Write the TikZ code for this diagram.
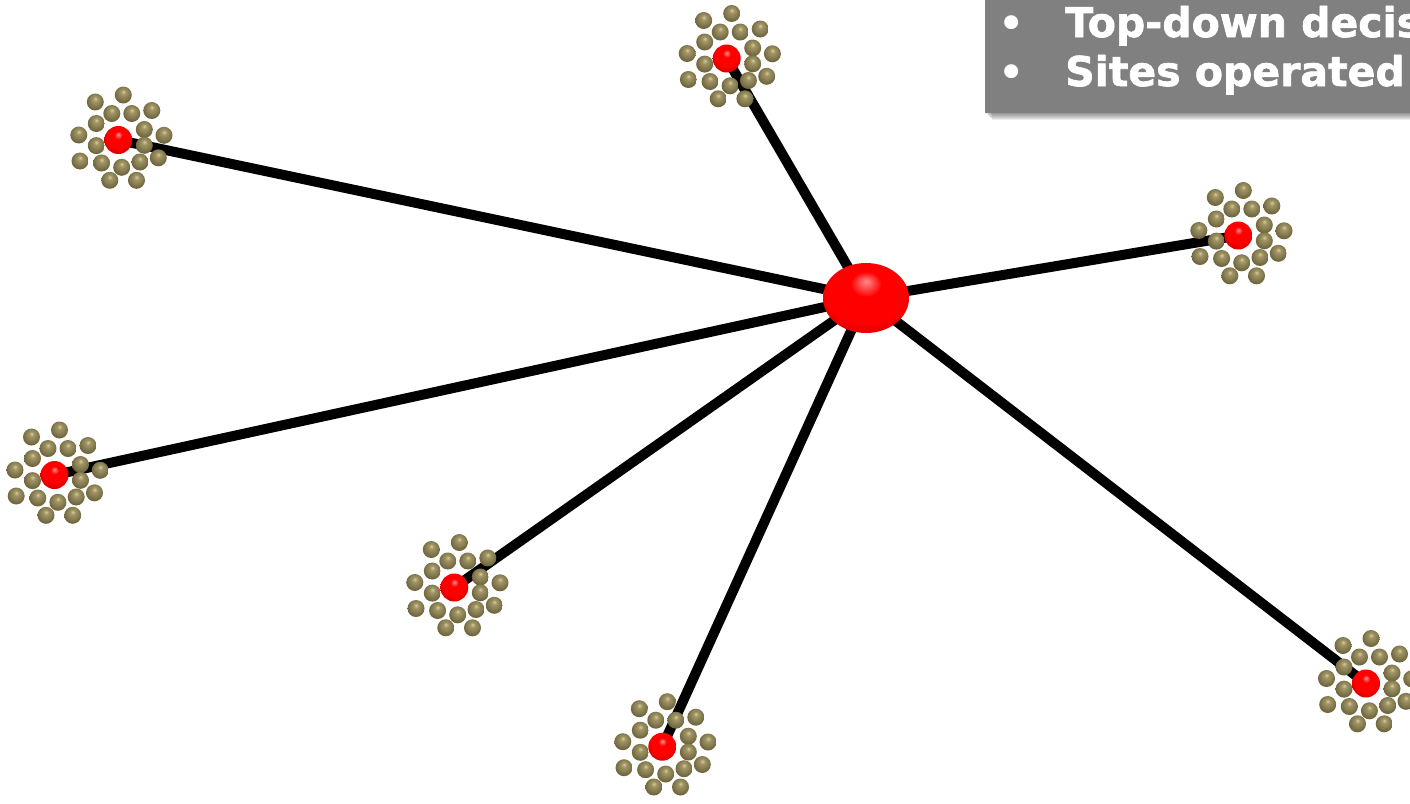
\documentclass[tikz,border=0pt]{standalone}
\usepackage{fontspec}
\setmainfont{DejaVu Sans}
\newfontfamily\panelfont[FakeBold=1.6]{DejaVu Sans Bold}
\usetikzlibrary{shapes.geometric}

\definecolor{panelgray}{RGB}{128,128,128}

% glossy spheres: highlight near the top, darker rim
\pgfdeclareradialshading{redsphere}{\pgfpoint{0bp}{10bp}}{%
  color(0bp)=(red!40!white); color(7bp)=(red); color(20bp)=(red);
  color(32bp)=(red!78!black); color(50bp)=(red!45!black)}
\pgfdeclareradialshading{khakisphere}{\pgfpoint{0bp}{10bp}}{%
  color(0bp)=(rgb,255:red,215;green,205;blue,160);
  color(7bp)=(rgb,255:red,162;green,150;blue,102);
  color(18bp)=(rgb,255:red,134;green,123;blue,80);
  color(30bp)=(rgb,255:red,100;green,92;blue,55);
  color(50bp)=(rgb,255:red,55;green,50;blue,28)}
\pgfdeclareradialshading{hubsphere}{\pgfpoint{0bp}{12bp}}{%
  color(0bp)=(red!45!white); color(9bp)=(red); color(24bp)=(red);
  color(35bp)=(red!78!black); color(50bp)=(red!45!black)}

\pgfdeclarelayer{bg}
\pgfsetlayers{bg,main}

\tikzset{
  link/.style={line width=10pt, black},
  site/.style={circle, minimum size=28pt, inner sep=0pt, shading=redsphere},
  peer/.style={circle, minimum size=17pt, inner sep=0pt, shading=khakisphere},
  hub/.style={ellipse, minimum width=86pt, minimum height=70pt, inner sep=0pt,
              shading=hubsphere},
  paneltext/.style={anchor=base west, inner sep=0pt, text=white,
                    font=\fontsize{41}{48}\panelfont},
  bulletmark/.style={anchor=base, inner sep=0pt, text=white,
                     font=\fontsize{48}{52}\selectfont},
}

% one site: a ring of peer balls around a red site ball
\newcommand\sitecluster[3]{%
  \begin{scope}[shift={(#2,#3)}]
    \foreach \dx/\dy [count=\k] in
      {5/-45, -23/-38, -6.5/-26.5, 13.5/-26.5, 33.5/-29.5,
       -22/-16.5, -39.5/-5, 26/-10.5, 45.7/-4.7,
       -22/5.6, 26/5.3,
       -38.3/21, -16.7/23, 3.4/27.3, 21.7/22, 40/17.8,
       -8.5/40.3, 18.2/40.3}
      \node[peer] (#1-\k) at (\dx,\dy) {};
    \node[site] (#1) at (0,0) {};
  \end{scope}
}

\begin{document}
\begin{tikzpicture}[x=1pt, y=-1pt]
  \useasboundingbox (0,0) rectangle (1410,803);
  \clip (0,0) rectangle (1410,803);

  % text panel with soft shadow
  \foreach \i in {1,...,7}
    \fill[black, opacity=0.07] (985+\i,-10) rectangle (1430,113+\i);
  \node[fill=panelgray, inner sep=0pt, minimum width=445pt, minimum height=123pt,
        anchor=south west] (panel) at (985,113) {};
  \node[bulletmark] (b1) at (1012,40) {•};
  \node[paneltext] (l1) at (1065,37) {Top-down decis};
  \node[bulletmark] (b2) at (1012,89) {•};
  \node[paneltext] (l2) at (1065,86) {Sites operated};

  % sites
  \sitecluster{s1}{118.3}{140}
  \sitecluster{s2}{726.7}{58.5}
  \sitecluster{s3}{1238.3}{235.5}
  \sitecluster{s4}{54.5}{475}
  \sitecluster{s5}{454.3}{587.5}
  \sitecluster{s6}{662.3}{746.7}
  \sitecluster{s7}{1366}{683.5}

  % central node
  \node[hub] (hub) at (866,298) {};

  % links from the centre to every site
  \begin{pgfonlayer}{bg}
    \foreach \s in {s1,s2,s3,s4,s5,s6,s7}
      \draw[link] (hub.center) -- (\s.center);
  \end{pgfonlayer}
\end{tikzpicture}
\end{document}
